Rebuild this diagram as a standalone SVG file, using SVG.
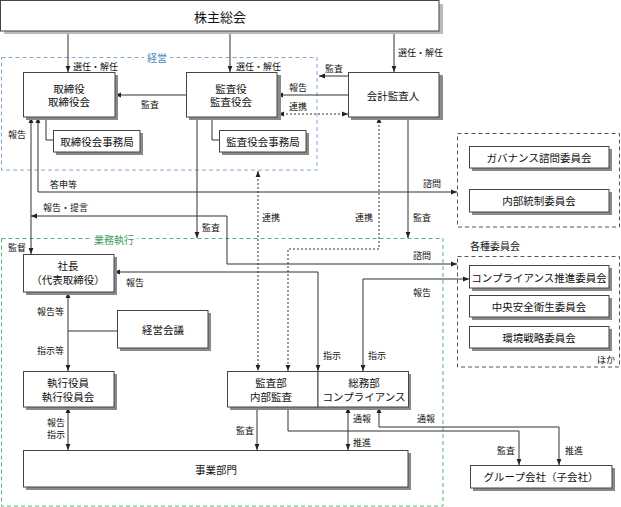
<svg xmlns="http://www.w3.org/2000/svg" width="621" height="507" viewBox="0 0 621 507">
<defs>
<marker id="a" viewBox="0 0 10 10" refX="10" refY="5" markerWidth="6" markerHeight="6" markerUnits="userSpaceOnUse" orient="auto-start-reverse"><path d="M0,1 L10,5 L0,9 z" fill="#222"/></marker>
</defs>
<style>
text{font-family:"Noto Sans CJK JP","Noto Sans",sans-serif;fill:#111;dominant-baseline:central}
.bx{fill:#fff;stroke:#444;stroke-width:1}
.sh{fill:#8a8a8a}
.t{font-size:10.5px;text-anchor:middle}
.l{font-size:9px}
.c{fill:none;stroke:#333;stroke-width:1}
.d{fill:none;stroke:#333;stroke-width:1;stroke-dasharray:2,2}
.ar{marker-end:url(#a)}
.bi{marker-start:url(#a);marker-end:url(#a)}
</style>
<rect width="621" height="507" fill="#fff"/>
<g id="frame-keiei">
<rect x="1.5" y="57.5" width="315.5" height="112.5" fill="none" stroke="#7fa8d0" stroke-dasharray="4,3"/>
<rect x="144" y="51" width="26" height="12" fill="#fff"/>
<text x="157" y="57" style="font-size:10px;text-anchor:middle;fill:#4a86c0">経営</text>
</g>
<g id="frame-gyomu">
<rect x="1.5" y="238.5" width="441.5" height="267.5" fill="none" stroke="#5db37e" stroke-dasharray="4,3"/>
<rect x="91" y="232" width="46" height="12" fill="#fff"/>
<text x="114" y="239" style="font-size:10px;text-anchor:middle;fill:#3d9a5e">業務執行</text>
</g>
<g id="frame-gov">
<rect x="457.5" y="133.5" width="162" height="93.5" fill="none" stroke="#555" stroke-dasharray="4,3"/>
</g>
<g id="frame-kakushu">
<text x="470" y="245" style="font-size:10px">各種委員会</text>
<rect x="457.5" y="256.5" width="162" height="110.5" fill="none" stroke="#555" stroke-dasharray="4,3"/>
<text x="597" y="359" class="l">ほか</text>
</g>
<g id="connectors">
<path class="c ar" d="M68,31 V72"/>
<path class="c ar" d="M230,31 V72"/>
<path class="c ar" d="M394,31 V72"/>
<path class="c ar" d="M186,95 H115"/>
<path class="c ar" d="M348,95 H277"/>
<path class="c ar" d="M348,76 H319"/>
<path class="d bi" d="M278,114 H348"/>
<path class="c" d="M46,117 V140 H53"/>
<path class="c" d="M212,117 V140 H219"/>
<path class="c bi" d="M31,117 V254"/>
<path class="c bi" d="M38,117 V192 H457"/>
<path class="c bi" d="M457,264 H227 V216 H31"/>
<path class="c ar" d="M197,117 V238"/>
<path class="c ar" d="M408,117 V238"/>
<path class="d bi" d="M258,171 V371"/>
<path class="d bi" d="M379,117 V249 H288 V371"/>
<path class="c bi" d="M114,272 H318 V371"/>
<path class="c bi" d="M469,279 H363 V371"/>
<path class="c bi" d="M68,292 V371"/>
<path class="c" d="M68,331 H117"/>
<path class="c bi" d="M68,407 V450"/>
<path class="c ar" d="M257,407 V450"/>
<path class="c bi" d="M348,407 V450"/>
<path class="c ar" d="M288,407 V431 H519 V465"/>
<path class="c bi" d="M379,407 V427 H559 V465"/>
<text x="73" y="66" class="l">選任・解任</text>
<text x="236" y="66" class="l">選任・解任</text>
<text x="398" y="52" class="l">選任・解任</text>
<text x="150" y="104" class="l" text-anchor="middle">監査</text>
<text x="325" y="68" class="l">監査</text>
<text x="289" y="87" class="l">報告</text>
<text x="289" y="106" class="l">連携</text>
<text x="8" y="134" class="l">報告</text>
<text x="50" y="184" class="l">答申等</text>
<text x="423" y="183" class="l">諮問</text>
<text x="43" y="207" class="l">報告・提言</text>
<text x="202" y="227" class="l">監査</text>
<text x="262" y="217" class="l">連携</text>
<text x="355" y="217" class="l">連携</text>
<text x="413" y="217" class="l">監査</text>
<text x="8" y="247" class="l">監督</text>
<text x="413" y="255" class="l">諮問</text>
<text x="126" y="282" class="l">報告</text>
<text x="413" y="292" class="l">報告</text>
<text x="37" y="311" class="l">報告等</text>
<text x="37" y="350" class="l">指示等</text>
<text x="323" y="355" class="l">指示</text>
<text x="368" y="355" class="l">指示</text>
<text x="47" y="422.5" class="l">報告</text>
<text x="47" y="434" class="l">指示</text>
<text x="236" y="430" class="l">監査</text>
<text x="353" y="418" class="l">通報</text>
<text x="353" y="442" class="l">推進</text>
<text x="417" y="418" class="l">通報</text>
<text x="497" y="450" class="l">監査</text>
<text x="565" y="450" class="l">推進</text>
</g>
<g id="kabunushi">
<rect x="4" y="4" width="439" height="30" fill="#bbb"/>
<rect x="0.5" y="0.5" width="438.5" height="30.5" class="bx"/>
<text x="220" y="16" style="font-size:13px;text-anchor:middle">株主総会</text>
</g>
<g id="torishimari">
<rect x="26" y="75" width="92" height="45" class="sh"/>
<rect x="23.5" y="72.5" width="91.5" height="44.5" class="bx"/>
<text x="69" y="88" class="t">取締役</text>
<text x="69" y="101.5" class="t">取締役会</text>
</g>
<g id="kansayaku">
<rect x="189" y="75" width="92" height="45" class="sh"/>
<rect x="186.5" y="72.5" width="90.5" height="44.5" class="bx"/>
<text x="231" y="88" class="t">監査役</text>
<text x="231" y="101.5" class="t">監査役会</text>
</g>
<g id="kaikei">
<rect x="351" y="75" width="92" height="45" class="sh"/>
<rect x="348.5" y="72.5" width="90.5" height="44.5" class="bx"/>
<text x="393" y="95" class="t">会計監査人</text>
</g>
<g id="torishimari-jimu">
<rect x="56" y="133" width="87" height="22" class="sh"/>
<rect x="53.5" y="130.5" width="86.5" height="21.5" class="bx"/>
<text x="97" y="141" class="t">取締役会事務局</text>
</g>
<g id="kansayaku-jimu">
<rect x="222" y="133" width="87" height="22" class="sh"/>
<rect x="219.5" y="130.5" width="86.5" height="21.5" class="bx"/>
<text x="263" y="141" class="t">監査役会事務局</text>
</g>
<g id="gov">
<rect x="472" y="149" width="140" height="22" class="sh"/>
<rect x="469.5" y="146.5" width="139.5" height="21.5" class="bx"/>
<text x="539" y="157" class="t">ガバナンス諮問委員会</text>
</g>
<g id="naibu">
<rect x="472" y="192" width="140" height="23" class="sh"/>
<rect x="469.5" y="189.5" width="139.5" height="22.5" class="bx"/>
<text x="539" y="200" class="t">内部統制委員会</text>
</g>
<g id="compliance-iinkai">
<rect x="472" y="268" width="140" height="23" class="sh"/>
<rect x="469.5" y="265.5" width="139.5" height="22.5" class="bx"/>
<text x="539" y="277" class="t">コンプライアンス推進委員会</text>
</g>
<g id="anzen">
<rect x="472" y="298" width="140" height="22" class="sh"/>
<rect x="469.5" y="295.5" width="139.5" height="21.5" class="bx"/>
<text x="539" y="306" class="t">中央安全衛生委員会</text>
</g>
<g id="kankyo">
<rect x="472" y="329" width="140" height="22" class="sh"/>
<rect x="469.5" y="326.5" width="139.5" height="21.5" class="bx"/>
<text x="539" y="337" class="t">環境戦略委員会</text>
</g>
<g id="shacho">
<rect x="26" y="257" width="91" height="38" class="sh"/>
<rect x="23.5" y="254.5" width="90.5" height="37.5" class="bx"/>
<text x="68" y="265.5" class="t">社長</text>
<text x="68" y="279" class="t">（代表取締役）</text>
</g>
<g id="keiei-kaigi">
<rect x="120" y="313" width="91" height="38" class="sh"/>
<rect x="117.5" y="310.5" width="90.5" height="37.5" class="bx"/>
<text x="163" y="329" class="t">経営会議</text>
</g>
<g id="shikko">
<rect x="26" y="374" width="91" height="36" class="sh"/>
<rect x="23.5" y="371.5" width="90.5" height="35.5" class="bx"/>
<text x="68" y="382.5" class="t">執行役員</text>
<text x="68" y="396" class="t">執行役員会</text>
</g>
<g id="kansabu">
<rect x="230" y="374" width="181" height="36" class="sh"/>
<rect x="227.5" y="371.5" width="90.5" height="35.5" class="bx"/>
<text x="271" y="382.5" class="t">監査部</text>
<text x="271" y="396" class="t">内部監査</text>
</g>
<g id="somubu">
<rect x="318" y="371.5" width="90.5" height="35.5" class="bx"/>
<text x="364" y="382.5" class="t">総務部</text>
<text x="364" y="396" class="t">コンプライアンス</text>
</g>
<g id="jigyo">
<rect x="26" y="453" width="385" height="37" class="sh"/>
<rect x="23.5" y="450.5" width="384.5" height="36.5" class="bx"/>
<text x="216" y="469" class="t">事業部門</text>
</g>
<g id="group">
<rect x="473" y="468" width="142" height="23" class="sh"/>
<rect x="470.5" y="465.5" width="141.5" height="22.5" class="bx"/>
<text x="541" y="476" class="t">グループ会社（子会社）</text>
</g>
</svg>
